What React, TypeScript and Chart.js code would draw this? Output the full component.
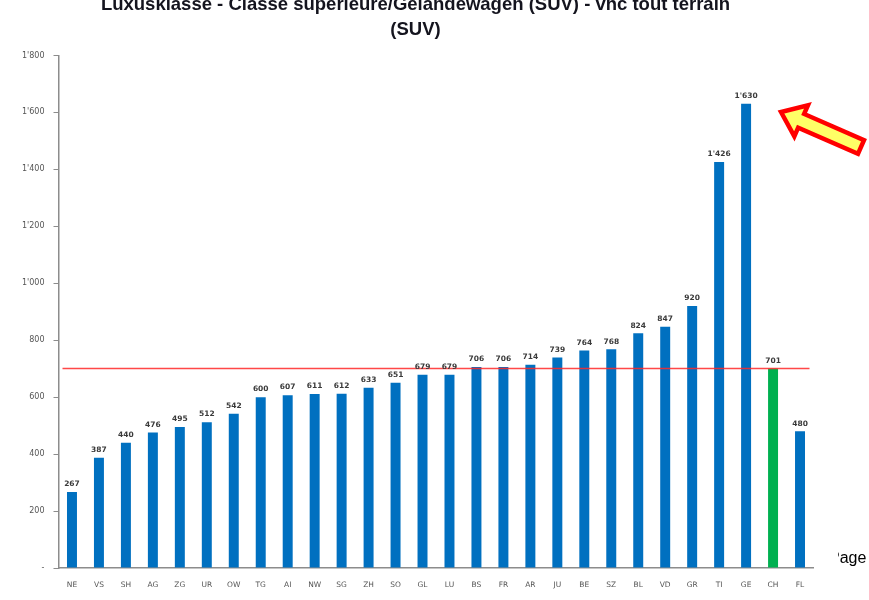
import React, { useEffect, useRef } from "react";
import { Chart, registerables } from "chart.js";

Chart.register(...registerables);

const titleLines = [
  "Luxusklasse - Classe superieure/Gelandewagen (SUV) - vhc tout terrain",
  "(SUV)",
];
const categories = [
  "NE", "VS", "SH", "AG", "ZG", "UR", "OW", "TG", "AI", "NW", "SG", "ZH", "SO", "GL",
  "LU", "BS", "FR", "AR", "JU", "BE", "SZ", "BL", "VD", "GR", "TI", "GE", "CH", "FL",
];
const values = [
  267, 387, 440, 476, 495, 512, 542, 600, 607, 611, 612, 633, 651, 679,
  679, 706, 706, 714, 739, 764, 768, 824, 847, 920, 1426, 1630, 701, 480,
];
const highlightCategory = "CH";
const averageValue = 701;
const yTickValues = [0, 200, 400, 600, 800, 1000, 1200, 1400, 1600, 1800];
const pageText = "Page";

const BLUE = "#0070C0";
const GREEN = "#00B050";

function fmt(v: number): string {
  if (v === 0) return "-";
  const s = Math.round(v).toString();
  return s.replace(/\B(?=(\d{3})+(?!\d))/g, "'");
}

const decorPlugin = {
  id: "decor",
  afterDatasetsDraw(chart: any) {
    const ctx = chart.ctx;
    const yScale = chart.scales.y;
    const area = chart.chartArea;
    // average line
    const yAvg = yScale.getPixelForValue(averageValue);
    ctx.save();
    ctx.strokeStyle = "rgba(255,40,40,0.85)";
    ctx.lineWidth = 1.5;
    ctx.beginPath();
    ctx.moveTo(area.left + 4, yAvg);
    ctx.lineTo(area.right - 4, yAvg);
    ctx.stroke();
    ctx.restore();

    // data labels
    const meta = chart.getDatasetMeta(0);
    ctx.save();
    ctx.font = "bold 7.5px 'DejaVu Sans', sans-serif";
    ctx.fillStyle = "#3a3a3a";
    ctx.textAlign = "center";
    ctx.textBaseline = "bottom";
    meta.data.forEach((el: any, i: number) => {
      ctx.fillText(fmt(values[i]), el.x, el.y - 4);
    });
    ctx.restore();
  },
  afterDraw(chart: any) {
    const ctx = chart.ctx;
    // arrow
    const tip = { x: 781, y: 120 };
    const tail = { x: 861, y: 155 };
    const dx = tail.x - tip.x;
    const dy = tail.y - tip.y;
    const len = Math.hypot(dx, dy);
    const ux = dx / len, uy = dy / len;
    const nx = -uy, ny = ux;
    const headLen = 22, headHalf = 17, shaftHalf = 7.5;
    const p = (a: number, b: number) => ({ x: tip.x + ux * a + nx * b, y: tip.y + uy * a + ny * b });
    const pts = [
      p(0, 0),
      p(headLen, headHalf),
      p(headLen, shaftHalf),
      p(len, shaftHalf),
      p(len, -shaftHalf),
      p(headLen, -shaftHalf),
      p(headLen, -headHalf),
    ];
    ctx.save();
    ctx.beginPath();
    pts.forEach((q, i) => (i === 0 ? ctx.moveTo(q.x, q.y) : ctx.lineTo(q.x, q.y)));
    ctx.closePath();
    ctx.fillStyle = "#FFFF66";
    ctx.fill();
    ctx.lineWidth = 4.5;
    ctx.lineJoin = "miter";
    ctx.strokeStyle = "#FF0000";
    ctx.stroke();
    ctx.restore();

    // clipped "Page" text from underlying slide
    ctx.save();
    ctx.beginPath();
    ctx.rect(838, 540, 40, 50);
    ctx.clip();
    ctx.font = "16px 'Liberation Sans', Arial, sans-serif";
    ctx.fillStyle = "#000000";
    ctx.textAlign = "left";
    ctx.textBaseline = "alphabetic";
    ctx.fillText(pageText, 829, 571);
    ctx.restore();
  },
};

export default function App() {
  const canvasRef = useRef<HTMLCanvasElement | null>(null);

  useEffect(() => {
    if (!canvasRef.current) return;
    const chart = new Chart(canvasRef.current, {
      type: "bar",
      data: {
        labels: categories,
        datasets: [
          {
            data: values,
            backgroundColor: categories.map((c) => (c === highlightCategory ? GREEN : BLUE)),
            barPercentage: 0.74,
            categoryPercentage: 0.5,
            yAxisID: "y",
          },
        ],
      },
      options: {
        animation: false,
        responsive: false,
        maintainAspectRatio: false,
        layout: { padding: { left: 0, right: 38, top: 0, bottom: 0 } },
        plugins: {
          legend: { display: false },
          tooltip: { enabled: false },
          title: {
            display: true,
            text: titleLines,
            color: "#14141e",
            font: { family: "'Liberation Sans', Arial, sans-serif", size: 18.5, weight: "bold", lineHeight: 1.35 },
            padding: { top: 0, bottom: 13.5 },
          },
        },
        scales: {
          x: {
            grid: { display: false, drawTicks: false },
            border: { display: true, color: "#8c8c8c", width: 1.5 },
            ticks: {
              color: "#555555",
              font: { family: "'DejaVu Sans', sans-serif", size: 7.5 },
              padding: 13,
              autoSkip: false,
              maxRotation: 0,
            },
            afterFit: (s: any) => {
              s.height = 32;
            },
          },
          y: {
            min: 0,
            max: 1800,
            afterBuildTicks: (s: any) => {
              s.ticks = yTickValues.map((v) => ({ value: v }));
            },
            grid: { display: true, drawOnChartArea: false, drawTicks: true, tickLength: 5, color: "#8c8c8c" },
            border: { display: true, color: "#8c8c8c", width: 1.5 },
            ticks: {
              color: "#555555",
              font: { family: "'DejaVu Sans', sans-serif", size: 8 },
              padding: 9,
              callback: (v: any) => fmt(Number(v)),
            },
            afterFit: (s: any) => {
              s.width = 58.5;
            },
          },
          y2: {
            position: "right",
            display: true,
            grid: { display: false, drawTicks: false },
            border: { display: false },
            ticks: { display: false },
            afterFit: (s: any) => {
              s.width = 17.5;
            },
          },
        },
      },
      plugins: [decorPlugin],
    });
    return () => chart.destroy();
  }, []);

  return (
    <div style={{ position: "absolute", left: 0, top: -8, width: 869, height: 608, background: "#ffffff" }}>
      <canvas ref={canvasRef} width={869} height={608} style={{ display: "block", width: 869, height: 608 }} />
    </div>
  );
}
